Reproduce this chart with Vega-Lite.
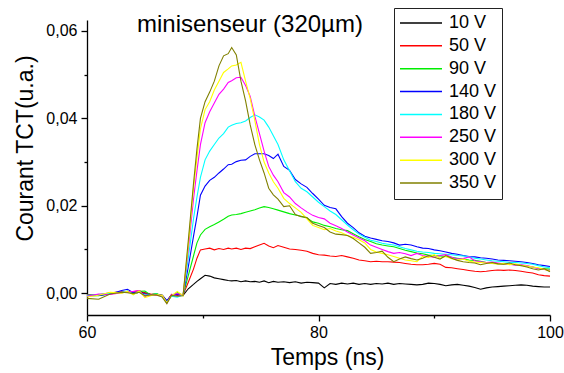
{
"$schema": "https://vega.github.io/schema/vega-lite/v6.json",
"width": 463, "height": 295,
"autosize": {"type": "none"},
"padding": {"left": 87, "top": 20, "right": 14, "bottom": 58},
"background": "white",
"config": {"font": "Liberation Sans", "view": {"stroke": null}},
"title": {"text": "minisenseur (320µm)", "anchor": "start", "frame": "group", "orient": "top", "fontSize": 24, "fontWeight": "normal", "color": "black", "dx": 50, "dy": 48, "offset": 0, "baseline": "alphabetic", "font": "Liberation Sans"},
"data": {"values": [
{"t":60,"10 V":-0.0003,"50 V":-0.0004,"90 V":-0.0005,"140 V":-0.0006,"180 V":-0.0005,"250 V":-0.0007,"300 V":-0.0009,"350 V":-0.0012},
{"t":61,"10 V":-0.0005,"50 V":-0.0004,"90 V":-0.0006,"140 V":-0.0005,"180 V":-0.0003,"250 V":-0.0002,"300 V":-0.0005,"350 V":-0.0014},
{"t":62,"10 V":0.0,"50 V":0.0001,"90 V":-0.0001,"140 V":-0.0002,"180 V":0.0,"250 V":-0.0003,"300 V":0.0002,"350 V":-0.0002},
{"t":63,"10 V":0.0002,"50 V":0.0003,"90 V":0.0001,"140 V":0.0006,"180 V":0.0002,"250 V":0.0001,"300 V":0.0,"350 V":0.0002},
{"t":63.5,"10 V":0.0004,"50 V":0.0002,"90 V":0.0003,"140 V":0.0009,"180 V":0.0005,"250 V":0.0003,"300 V":0.0004,"350 V":0.0001},
{"t":64,"10 V":-0.0002,"50 V":0.0003,"90 V":0.0,"140 V":0.0001,"180 V":-0.0003,"250 V":0.0004,"300 V":-0.0004,"350 V":-0.0001},
{"t":64.5,"10 V":0.0002,"50 V":0.0006,"90 V":0.0004,"140 V":0.0002,"180 V":0.0003,"250 V":0.0006,"300 V":0.0005,"350 V":0.0002},
{"t":65,"10 V":0.0001,"50 V":0.0,"90 V":0.0005,"140 V":-0.0002,"180 V":-0.0005,"250 V":-0.0008,"300 V":-0.001,"350 V":-0.0006},
{"t":65.5,"10 V":-0.0003,"50 V":-0.0002,"90 V":-0.0004,"140 V":-0.0003,"180 V":-0.0004,"250 V":-0.0003,"300 V":-0.0006,"350 V":-0.0004},
{"t":66,"10 V":-0.0002,"50 V":-0.0003,"90 V":-0.0001,"140 V":-0.0004,"180 V":-0.0002,"250 V":-0.0005,"300 V":-0.0003,"350 V":-0.0004},
{"t":66.5,"10 V":-0.0005,"50 V":-0.0006,"90 V":-0.0007,"140 V":-0.0005,"180 V":-0.0008,"250 V":-0.0006,"300 V":-0.0005,"350 V":-0.0009},
{"t":66.9,"10 V":-0.0018,"50 V":-0.0019,"90 V":-0.002,"140 V":-0.0017,"180 V":-0.0021,"250 V":-0.0023,"300 V":-0.0022,"350 V":-0.0024},
{"t":67.3,"10 V":-0.0004,"50 V":-0.0003,"90 V":-0.0006,"140 V":-0.0005,"180 V":-0.0007,"250 V":-0.0004,"300 V":-0.0006,"350 V":-0.0005},
{"t":67.8,"10 V":-0.0002,"50 V":-0.0005,"90 V":0.0001,"140 V":-0.0003,"180 V":-0.0009,"250 V":-0.0001,"300 V":0.0004,"350 V":-0.0007},
{"t":68.3,"10 V":-0.0005,"50 V":-0.0004,"90 V":-0.0005,"140 V":-0.0005,"180 V":-0.0004,"250 V":-0.0005,"300 V":-0.0006,"350 V":-0.0006},
{"t":68.75,"10 V":0.001,"50 V":0.0025,"90 V":0.004,"140 V":0.006,"180 V":0.008,"250 V":0.01,"300 V":0.011,"350 V":0.012},
{"t":69.2,"10 V":0.002,"50 V":0.0055,"90 V":0.0085,"140 V":0.013,"180 V":0.017,"250 V":0.0215,"300 V":0.024,"350 V":0.025},
{"t":69.5,"10 V":0.0027,"50 V":0.008,"90 V":0.0115,"140 V":0.0175,"180 V":0.022,"250 V":0.028,"300 V":0.031,"350 V":0.033},
{"t":69.8,"10 V":0.0033,"50 V":0.0099,"90 V":0.0133,"140 V":0.0224,"180 V":0.0265,"250 V":0.034,"300 V":0.0376,"350 V":0.04},
{"t":70.2,"10 V":0.0041,"50 V":0.0101,"90 V":0.0146,"140 V":0.0245,"180 V":0.0305,"250 V":0.039,"300 V":0.042,"350 V":0.0438},
{"t":70.6,"10 V":0.0039,"50 V":0.0103,"90 V":0.0152,"140 V":0.0258,"180 V":0.0325,"250 V":0.0415,"300 V":0.0438,"350 V":0.046},
{"t":71.0,"10 V":0.0035,"50 V":0.0099,"90 V":0.0157,"140 V":0.0265,"180 V":0.034,"250 V":0.0435,"300 V":0.0465,"350 V":0.0485},
{"t":71.4,"10 V":0.0033,"50 V":0.0102,"90 V":0.0163,"140 V":0.0275,"180 V":0.0355,"250 V":0.0455,"300 V":0.0485,"350 V":0.052},
{"t":71.8,"10 V":0.0031,"50 V":0.01,"90 V":0.0169,"140 V":0.0284,"180 V":0.0365,"250 V":0.0467,"300 V":0.0505,"350 V":0.0543},
{"t":72.2,"10 V":0.0029,"50 V":0.0103,"90 V":0.0176,"140 V":0.0294,"180 V":0.038,"250 V":0.0482,"300 V":0.0513,"350 V":0.0548},
{"t":72.5,"10 V":0.0028,"50 V":0.0101,"90 V":0.0179,"140 V":0.0295,"180 V":0.0384,"250 V":0.0486,"300 V":0.052,"350 V":0.0562},
{"t":72.9,"10 V":0.0029,"50 V":0.0103,"90 V":0.018,"140 V":0.0301,"180 V":0.0388,"250 V":0.0493,"300 V":0.0522,"350 V":0.0545},
{"t":73.3,"10 V":0.0026,"50 V":0.01,"90 V":0.0182,"140 V":0.0304,"180 V":0.039,"250 V":0.0494,"300 V":0.0528,"350 V":0.0485},
{"t":73.7,"10 V":0.0028,"50 V":0.0103,"90 V":0.0185,"140 V":0.0305,"180 V":0.0394,"250 V":0.0475,"300 V":0.0485,"350 V":0.044},
{"t":74.1,"10 V":0.0026,"50 V":0.0102,"90 V":0.0188,"140 V":0.0313,"180 V":0.0402,"250 V":0.045,"300 V":0.0445,"350 V":0.0385},
{"t":74.5,"10 V":0.0027,"50 V":0.0106,"90 V":0.0191,"140 V":0.0319,"180 V":0.0408,"250 V":0.0405,"300 V":0.0395,"350 V":0.034},
{"t":74.9,"10 V":0.0025,"50 V":0.011,"90 V":0.0195,"140 V":0.0319,"180 V":0.0403,"250 V":0.0365,"300 V":0.034,"350 V":0.0305},
{"t":75.3,"10 V":0.0028,"50 V":0.0114,"90 V":0.0198,"140 V":0.0319,"180 V":0.0396,"250 V":0.0325,"300 V":0.03,"350 V":0.0275},
{"t":75.7,"10 V":0.0024,"50 V":0.0108,"90 V":0.0196,"140 V":0.0315,"180 V":0.038,"250 V":0.029,"300 V":0.0275,"350 V":0.024},
{"t":76.1,"10 V":0.0027,"50 V":0.0104,"90 V":0.0193,"140 V":0.0308,"180 V":0.036,"250 V":0.027,"300 V":0.0255,"350 V":0.0225},
{"t":76.5,"10 V":0.0025,"50 V":0.0109,"90 V":0.019,"140 V":0.0318,"180 V":0.034,"250 V":0.0255,"300 V":0.024,"350 V":0.0215},
{"t":77.0,"10 V":0.0026,"50 V":0.0105,"90 V":0.0186,"140 V":0.029,"180 V":0.0305,"250 V":0.023,"300 V":0.0217,"350 V":0.0198},
{"t":77.5,"10 V":0.0024,"50 V":0.0101,"90 V":0.0182,"140 V":0.0281,"180 V":0.028,"250 V":0.022,"300 V":0.0205,"350 V":0.02},
{"t":78.0,"10 V":0.0026,"50 V":0.01,"90 V":0.0179,"140 V":0.026,"180 V":0.0255,"250 V":0.0205,"300 V":0.0195,"350 V":0.018},
{"t":78.5,"10 V":0.0023,"50 V":0.0098,"90 V":0.0176,"140 V":0.025,"180 V":0.024,"250 V":0.0195,"300 V":0.0185,"350 V":0.0175},
{"t":79.0,"10 V":0.0025,"50 V":0.0096,"90 V":0.0172,"140 V":0.0242,"180 V":0.0232,"250 V":0.0186,"300 V":0.017,"350 V":0.0173},
{"t":79.5,"10 V":0.0024,"50 V":0.0091,"90 V":0.0163,"140 V":0.0228,"180 V":0.022,"250 V":0.0178,"300 V":0.0155,"350 V":0.016},
{"t":80.0,"10 V":0.0023,"50 V":0.0088,"90 V":0.016,"140 V":0.0215,"180 V":0.0208,"250 V":0.0173,"300 V":0.015,"350 V":0.0155},
{"t":80.5,"10 V":0.0012,"50 V":0.0087,"90 V":0.0155,"140 V":0.0201,"180 V":0.0198,"250 V":0.017,"300 V":0.0145,"350 V":0.015},
{"t":81.0,"10 V":0.0022,"50 V":0.0085,"90 V":0.0152,"140 V":0.0196,"180 V":0.0188,"250 V":0.016,"300 V":0.0148,"350 V":0.014},
{"t":81.5,"10 V":0.002,"50 V":0.0084,"90 V":0.0148,"140 V":0.0193,"180 V":0.018,"250 V":0.0154,"300 V":0.0142,"350 V":0.0135},
{"t":82.0,"10 V":0.0023,"50 V":0.0086,"90 V":0.0145,"140 V":0.0175,"180 V":0.0168,"250 V":0.0148,"300 V":0.0138,"350 V":0.0134},
{"t":82.5,"10 V":0.0021,"50 V":0.0083,"90 V":0.0143,"140 V":0.016,"180 V":0.0156,"250 V":0.014,"300 V":0.0132,"350 V":0.0132},
{"t":83.0,"10 V":0.0023,"50 V":0.008,"90 V":0.0136,"140 V":0.015,"180 V":0.0145,"250 V":0.0133,"300 V":0.0128,"350 V":0.0125},
{"t":83.5,"10 V":0.002,"50 V":0.0076,"90 V":0.0129,"140 V":0.0138,"180 V":0.0135,"250 V":0.0126,"300 V":0.0122,"350 V":0.0115},
{"t":84.0,"10 V":0.0022,"50 V":0.0074,"90 V":0.0123,"140 V":0.013,"180 V":0.0128,"250 V":0.012,"300 V":0.0115,"350 V":0.0105},
{"t":84.5,"10 V":0.002,"50 V":0.0072,"90 V":0.0118,"140 V":0.0126,"180 V":0.0121,"250 V":0.011,"300 V":0.01,"350 V":0.0091},
{"t":85.0,"10 V":0.0022,"50 V":0.0073,"90 V":0.0113,"140 V":0.0123,"180 V":0.0118,"250 V":0.0105,"300 V":0.0094,"350 V":0.0093},
{"t":85.5,"10 V":0.0021,"50 V":0.0072,"90 V":0.011,"140 V":0.012,"180 V":0.0114,"250 V":0.01,"300 V":0.0091,"350 V":0.0096},
{"t":86.0,"10 V":0.0023,"50 V":0.0072,"90 V":0.0108,"140 V":0.0118,"180 V":0.0112,"250 V":0.0095,"300 V":0.0088,"350 V":0.0082},
{"t":86.5,"10 V":0.002,"50 V":0.0071,"90 V":0.0106,"140 V":0.0115,"180 V":0.011,"250 V":0.0091,"300 V":0.0084,"350 V":0.0072},
{"t":87.0,"10 V":0.0022,"50 V":0.007,"90 V":0.0102,"140 V":0.011,"180 V":0.0106,"250 V":0.0093,"300 V":0.008,"350 V":0.0078},
{"t":87.5,"10 V":0.0021,"50 V":0.0068,"90 V":0.0098,"140 V":0.0112,"180 V":0.0102,"250 V":0.009,"300 V":0.0076,"350 V":0.0083},
{"t":88.0,"10 V":0.002,"50 V":0.0066,"90 V":0.0095,"140 V":0.011,"180 V":0.0099,"250 V":0.0086,"300 V":0.0074,"350 V":0.0079},
{"t":88.5,"10 V":0.0019,"50 V":0.0065,"90 V":0.0092,"140 V":0.0106,"180 V":0.0096,"250 V":0.0091,"300 V":0.0072,"350 V":0.0076},
{"t":89.0,"10 V":0.002,"50 V":0.0065,"90 V":0.009,"140 V":0.0103,"180 V":0.0094,"250 V":0.0086,"300 V":0.0084,"350 V":0.008},
{"t":89.5,"10 V":0.0023,"50 V":0.0066,"90 V":0.0087,"140 V":0.0102,"180 V":0.0093,"250 V":0.0084,"300 V":0.0082,"350 V":0.0086},
{"t":90.0,"10 V":0.0022,"50 V":0.0068,"90 V":0.0086,"140 V":0.0099,"180 V":0.0091,"250 V":0.0082,"300 V":0.0088,"350 V":0.0082},
{"t":90.5,"10 V":0.002,"50 V":0.0066,"90 V":0.0085,"140 V":0.0097,"180 V":0.009,"250 V":0.0086,"300 V":0.008,"350 V":0.0078},
{"t":91.0,"10 V":0.0017,"50 V":0.0059,"90 V":0.0084,"140 V":0.0094,"180 V":0.0089,"250 V":0.0088,"300 V":0.0084,"350 V":0.0086},
{"t":91.5,"10 V":0.0019,"50 V":0.0058,"90 V":0.0082,"140 V":0.0091,"180 V":0.0088,"250 V":0.0082,"300 V":0.0079,"350 V":0.008},
{"t":92.0,"10 V":0.002,"50 V":0.0056,"90 V":0.008,"140 V":0.0089,"180 V":0.0086,"250 V":0.0078,"300 V":0.0076,"350 V":0.0075},
{"t":92.5,"10 V":0.0018,"50 V":0.0054,"90 V":0.0078,"140 V":0.0086,"180 V":0.0085,"250 V":0.0079,"300 V":0.0078,"350 V":0.0072},
{"t":93.0,"10 V":0.0016,"50 V":0.0052,"90 V":0.0076,"140 V":0.0084,"180 V":0.0083,"250 V":0.0083,"300 V":0.0073,"350 V":0.007},
{"t":93.5,"10 V":0.0013,"50 V":0.005,"90 V":0.0075,"140 V":0.0083,"180 V":0.008,"250 V":0.0074,"300 V":0.0071,"350 V":0.0069},
{"t":94.0,"10 V":0.0009,"50 V":0.0049,"90 V":0.0073,"140 V":0.0081,"180 V":0.0078,"250 V":0.0072,"300 V":0.007,"350 V":0.0065},
{"t":94.5,"10 V":0.0012,"50 V":0.005,"90 V":0.007,"140 V":0.008,"180 V":0.0076,"250 V":0.007,"300 V":0.0069,"350 V":0.0068},
{"t":95.0,"10 V":0.0014,"50 V":0.0052,"90 V":0.0069,"140 V":0.0078,"180 V":0.0074,"250 V":0.0071,"300 V":0.0068,"350 V":0.007},
{"t":95.5,"10 V":0.0015,"50 V":0.0053,"90 V":0.0068,"140 V":0.0076,"180 V":0.0073,"250 V":0.0069,"300 V":0.0066,"350 V":0.0067},
{"t":96.0,"10 V":0.0016,"50 V":0.0052,"90 V":0.0067,"140 V":0.0075,"180 V":0.0072,"250 V":0.0067,"300 V":0.0068,"350 V":0.0066},
{"t":96.5,"10 V":0.0017,"50 V":0.0053,"90 V":0.0066,"140 V":0.0074,"180 V":0.007,"250 V":0.0066,"300 V":0.0065,"350 V":0.0069},
{"t":97.0,"10 V":0.0018,"50 V":0.0052,"90 V":0.0065,"140 V":0.0073,"180 V":0.007,"250 V":0.0064,"300 V":0.0067,"350 V":0.0065},
{"t":97.5,"10 V":0.0019,"50 V":0.005,"90 V":0.0064,"140 V":0.0072,"180 V":0.0069,"250 V":0.0065,"300 V":0.0064,"350 V":0.0063},
{"t":98.0,"10 V":0.0018,"50 V":0.0048,"90 V":0.0062,"140 V":0.007,"180 V":0.0068,"250 V":0.0063,"300 V":0.0062,"350 V":0.006},
{"t":98.5,"10 V":0.0016,"50 V":0.0046,"90 V":0.006,"140 V":0.0068,"180 V":0.0066,"250 V":0.006,"300 V":0.006,"350 V":0.0056},
{"t":99.0,"10 V":0.0015,"50 V":0.0042,"90 V":0.0057,"140 V":0.0065,"180 V":0.0063,"250 V":0.0056,"300 V":0.0058,"350 V":0.0053},
{"t":99.5,"10 V":0.0014,"50 V":0.004,"90 V":0.0056,"140 V":0.0063,"180 V":0.006,"250 V":0.0054,"300 V":0.0055,"350 V":0.0056},
{"t":100,"10 V":0.0014,"50 V":0.0039,"90 V":0.0055,"140 V":0.0061,"180 V":0.0058,"250 V":0.0052,"300 V":0.005,"350 V":0.0049}
]},
"transform": [{"fold": ["10 V","50 V","90 V","140 V","180 V","250 V","300 V","350 V"], "as": ["serie","v"]}],
"mark": {"type": "line", "strokeWidth": 1.1, "interpolate": "linear"},
"encoding": {
 "x": {"field": "t", "type": "quantitative", "scale": {"domain": [60, 100], "nice": false, "zero": false},
  "axis": {"title": "Temps (ns)", "values": [60,70,80,90,100], "labelExpr": "datum.value % 20 === 0 ? datum.label : ''",
   "tickSize": {"condition": {"test": "datum.value % 20 === 0", "value": 6}, "value": 3},
   "grid": false, "domainColor": "black", "tickColor": "black", "labelColor": "black", "titleColor": "black",
   "labelFontSize": 16, "titleFontSize": 23, "titleFontWeight": "normal", "labelPadding": 3, "titlePadding": 6,
   "titleX": 240, "domainWidth": 1.3, "tickWidth": 1.3, "labelFlush": false, "labelOverlap": false, "labelFont": "Liberation Sans", "titleFont": "Liberation Sans"}},
 "y": {"field": "v", "type": "quantitative", "scale": {"domain": [-0.005, 0.0625], "nice": false, "zero": false},
  "axis": {"title": "Courant TCT(u.a.)", "values": [0,0.01,0.02,0.03,0.04,0.05,0.06],
   "labelExpr": "round(datum.value*100) % 2 === 0 ? replace(format(datum.value, '.2f'), '.', ',') : ''",
   "tickSize": {"condition": {"test": "round(datum.value*100) % 2 === 0", "value": 6}, "value": 3},
   "grid": false, "domainColor": "black", "tickColor": "black", "labelColor": "black", "titleColor": "black",
   "labelFontSize": 16, "titleFontSize": 23, "titleFontWeight": "normal", "labelPadding": 4, "titlePadding": 8,
   "titleY": 128, "domainWidth": 1.3, "tickWidth": 1.3, "labelOverlap": false, "labelFont": "Liberation Sans", "titleFont": "Liberation Sans"}},
 "color": {"field": "serie", "type": "nominal",
  "scale": {"domain": ["10 V","50 V","90 V","140 V","180 V","250 V","300 V","350 V"], "range": ["#000000","#ff0000","#00ee00","#0000ff","#00ffff","#ff00ff","#ffff00","#808000"]},
  "legend": {"orient": "none", "legendX": 307, "legendY": -12, "title": null, "padding": 5, "fillColor": "white", "strokeColor": "#222222",
   "symbolType": "stroke", "symbolSize": 1764, "symbolStrokeWidth": 1.5, "clipHeight": 20, "rowPadding": 2.86,
   "labelFontSize": 18, "labelOffset": 6, "labelColor": "black", "labelFont": "Liberation Sans", "labelLimit": 200}}
}
}
